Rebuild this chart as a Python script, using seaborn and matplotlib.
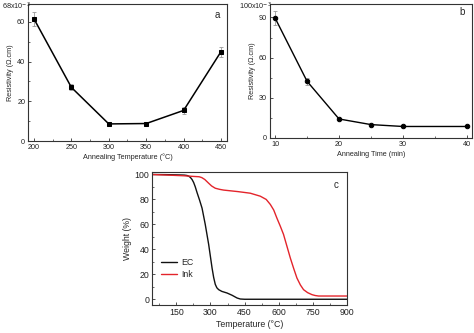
import numpy as np
import pandas as pd
import matplotlib
matplotlib.use("Agg")
import matplotlib.pyplot as plt
import seaborn as sns
from matplotlib.ticker import MultipleLocator

sns.set_theme(style="ticks")
plt.rcParams['font.family'] = ['Liberation Sans', 'DejaVu Sans']

# Panel a
temp_a = [200, 250, 300, 350, 400, 450]
res_a = [61.5, 27.0, 8.6, 8.8, 15.4, 45.0]
err_a = [3.5, 1.5, 0.5, 0.5, 1.6, 2.5]

# Panel b
time_b = [10, 15, 20, 25, 30, 40]
res_b = [89.5, 42.3, 14.2, 10.0, 8.6, 8.6]
err_b = [5.0, 2.5, 1.0, 0.6, 0.4, 0.4]

# Panel c (TGA)
ec_t = [43, 100, 150, 185, 197, 205, 212, 219, 226, 233, 241, 252, 263, 277, 292, 307, 314, 321,
        328, 336, 350, 373, 395, 417, 431, 450, 600, 750, 900]
ec_w = [100, 99.9, 99.7, 99.5, 99.2, 98.6, 97.6, 96, 93.6, 90.2, 85.5, 79.5, 73, 60, 44, 25, 17.5, 12,
        9.2, 7.7, 6.3, 5, 3.2, 1, 0.2, 0, 0, 0, 0]
ink_t = [43, 100, 181, 230, 250, 262, 275, 292, 305, 321, 340, 358, 420, 475, 519, 545, 563, 578,
         592, 607, 621, 636, 651, 666, 680, 695, 709, 727, 746, 760, 775, 800, 900]
ink_w = [100, 99.6, 99, 98.4, 98.2, 97.5, 96, 93, 90.8, 89, 88.1, 87.5, 86.3, 85, 82.6, 80, 76, 71.5,
         65, 58.5, 52, 42.5, 33, 24.5, 17, 11.5, 7.7, 5.3, 3.7, 3.0, 2.6, 2.6, 2.6]

W, H = 474, 333
fig = plt.figure(figsize=(W / 100, H / 100), dpi=100)

def box(l, t, r, b):
    return [l / W, 1 - b / H, (r - l) / W, (b - t) / H]

spine_col = '#333333'
small = 5.2
mid = 6.3

def style(ax, fs):
    for s in ax.spines.values():
        s.set_color(spine_col)
        s.set_linewidth(0.8)
        s.set_visible(True)
    ax.tick_params(which='both', direction='in', color=spine_col, labelsize=fs,
                   labelcolor='#222222', pad=2)
    ax.tick_params(which='major', length=2.5, width=0.6)
    ax.tick_params(which='minor', length=1.5, width=0.5)

# ---- a ----
ax1 = fig.add_axes(box(28, 4, 227, 141))
dfa = pd.DataFrame({'T': temp_a, 'R': res_a})
ax1.errorbar(temp_a, res_a, yerr=err_a, fmt='none', ecolor='#999999', elinewidth=0.6, capsize=1.2, capthick=0.6)
sns.lineplot(data=dfa, x='T', y='R', ax=ax1, color='black', lw=1.1, marker='s', markersize=3.2,
             markeredgecolor='black')
ax1.set_xlim(192, 458)
ax1.set_ylim(0, 69)
ax1.xaxis.set_major_locator(MultipleLocator(50))
ax1.xaxis.set_minor_locator(MultipleLocator(25))
ax1.yaxis.set_major_locator(MultipleLocator(20))
ax1.yaxis.set_minor_locator(MultipleLocator(10))
ax1.set_xlabel('Annealing Temperature (°C)', fontsize=small, labelpad=2)
ax1.set_ylabel('Resistivity (Ω.cm)', fontsize=small, labelpad=2)
style(ax1, small)
ax1.text(0.965, 0.92, 'a', transform=ax1.transAxes, fontsize=7, ha='right', va='center')
fig.text(2 / W, 1 - 1 / H, r'68x10$^{-3}$', fontsize=small, ha='left', va='top', color='#222222')

# ---- b ----
ax2 = fig.add_axes(box(270, 4, 472, 138))
dfb = pd.DataFrame({'t': time_b, 'R': res_b})
ax2.errorbar(time_b, res_b, yerr=err_b, fmt='none', ecolor='#999999', elinewidth=0.6, capsize=1.2, capthick=0.6)
sns.lineplot(data=dfb, x='t', y='R', ax=ax2, color='black', lw=1.0, marker='o', markersize=3.2,
             markeredgecolor='black')
ax2.set_xlim(9.2, 40.8)
ax2.set_ylim(0, 100)
ax2.xaxis.set_major_locator(MultipleLocator(10))
ax2.xaxis.set_minor_locator(MultipleLocator(5))
ax2.yaxis.set_major_locator(MultipleLocator(30))
ax2.yaxis.set_minor_locator(MultipleLocator(15))
ax2.set_xlabel('Annealing Time (min)', fontsize=small, labelpad=2)
ax2.set_ylabel('Resistivity (Ω.cm)', fontsize=small, labelpad=2)
style(ax2, small)
ax2.text(0.965, 0.94, 'b', transform=ax2.transAxes, fontsize=7, ha='right', va='center')
fig.text(239 / W, 1 - 1 / H, r'100x10$^{-3}$', fontsize=small, ha='left', va='top', color='#222222')

# ---- c ----
ax3 = fig.add_axes(box(152, 172, 347, 305))
dfc = pd.concat([
    pd.DataFrame({'T': ec_t, 'W': ec_w, 'S': 'EC'}),
    pd.DataFrame({'T': ink_t, 'W': ink_w, 'S': 'Ink'}),
])
sns.lineplot(data=dfc, x='T', y='W', hue='S', ax=ax3, palette={'EC': '#111111', 'Ink': '#e3242b'},
             lw=1.0, sort=False)
ax3.set_xlim(43, 900)
ax3.set_ylim(-4.6, 102)
ax3.xaxis.set_major_locator(MultipleLocator(150))
ax3.xaxis.set_minor_locator(MultipleLocator(75))
ax3.yaxis.set_major_locator(MultipleLocator(20))
ax3.yaxis.set_minor_locator(MultipleLocator(10))
ax3.set_xlabel('Temperature (°C)', fontsize=mid, labelpad=2)
ax3.set_ylabel('Weight (%)', fontsize=mid, labelpad=2)
style(ax3, mid)
ax3.text(0.955, 0.9, 'c', transform=ax3.transAxes, fontsize=7, ha='right', va='center')
leg = ax3.legend(loc='lower left', bbox_to_anchor=(0.03, 0.17), frameon=False, fontsize=mid,
                 handlelength=1.8, handletextpad=0.5, labelspacing=0.3, borderaxespad=0)
for line in leg.get_lines():
    line.set_linewidth(1.0)

fig.savefig('out.png', dpi=100)
